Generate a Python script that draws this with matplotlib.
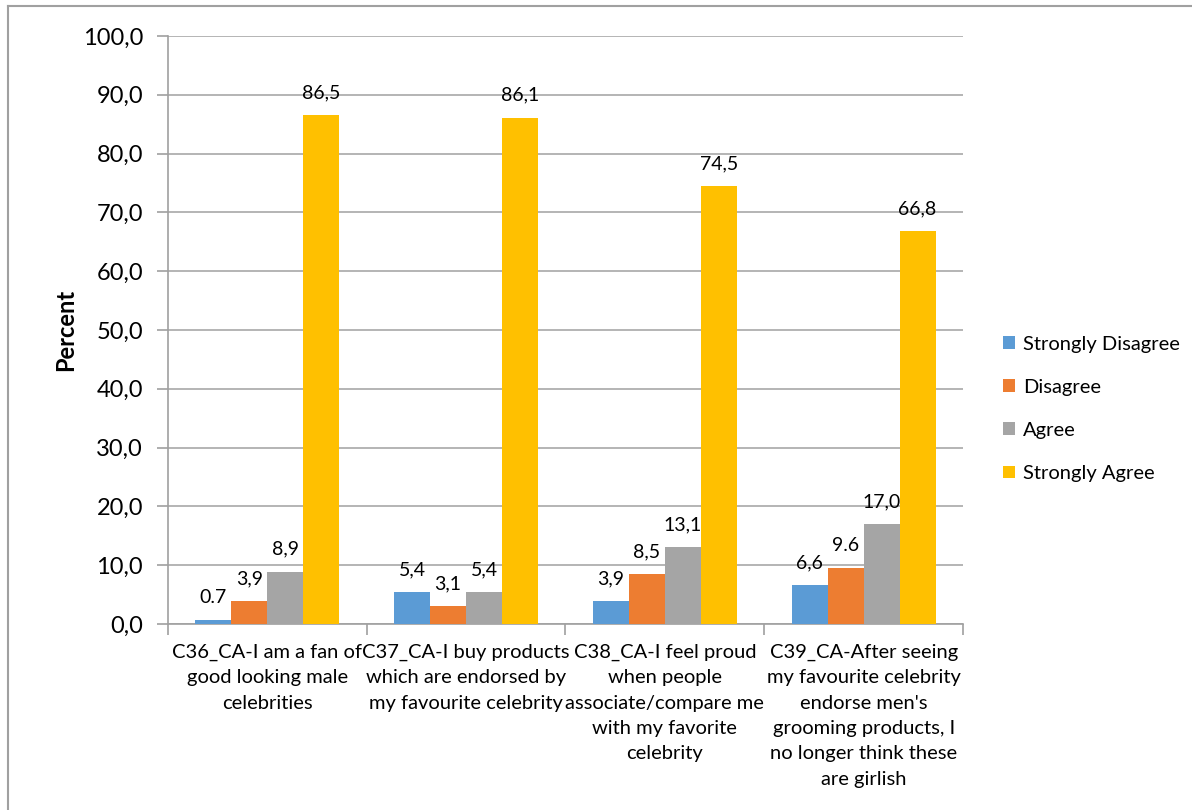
import numpy as np
import matplotlib
matplotlib.use("Agg")
import matplotlib.pyplot as plt
from matplotlib.lines import Line2D

plt.rcParams['font.family'] = ['Lato', 'DejaVu Sans']

# survey items (x categories) and the four answer groups
categories = [
    "C36_CA-I am a fan of\ngood looking male\ncelebrities",
    "C37_CA-I buy products\nwhich are endorsed by\nmy favourite celebrity",
    "C38_CA-I feel proud\nwhen people\nassociate/compare me\nwith my favorite\ncelebrity",
    "C39_CA-After seeing\nmy favourite celebrity\nendorse men's\ngrooming products, I\nno longer think these\nare girlish",
]
series_names = ["Strongly Disagree", "Disagree", "Agree", "Strongly Agree"]
strongly_disagree = [0.7, 5.4, 3.9, 6.6]
disagree = [3.9, 3.1, 8.5, 9.6]
agree = [8.9, 5.4, 13.1, 17.0]
strongly_agree = [86.5, 86.1, 74.5, 66.8]
# labels written with a point instead of a comma: (series, category)
dot_labels = {(0, 0), (1, 3)}

series = [strongly_disagree, disagree, agree, strongly_agree]
colors = ["#5B9BD5", "#ED7D31", "#A5A5A5", "#FFC000"]

fig = plt.figure(figsize=(11.92, 8.10), dpi=100)
ax = fig.add_axes([0.1409, 0.2296, 0.667, 0.726])

x = np.arange(len(categories))
w = 0.181
for i, (vals, col) in enumerate(zip(series, colors)):
    pos = x + (i - 1.5) * w
    bars = ax.bar(pos, vals, width=w, color=col, label=series_names[i], zorder=3)
    for j, (b, v) in enumerate(zip(bars, vals)):
        txt = f"{v:.1f}"
        if (i, j) not in dot_labels:
            txt = txt.replace(".", ",")
        ax.annotate(txt, (b.get_x() + b.get_width() / 2, v), xytext=(0, 10),
                    textcoords="offset points", ha="center", va="bottom",
                    fontsize=14, color="#000000")

ax.set_xlim(-0.5, len(categories) - 0.5)
ax.set_ylim(0, 100)
ax.set_yticks(np.arange(0, 101, 10))
ax.set_yticklabels([f"{t:.1f}".replace(".", ",") for t in np.arange(0, 101, 10)],
                   fontsize=17)
ax.set_xticks(x)
ax.set_xticklabels(categories, fontsize=14.5, linespacing=1.6, va="top")
ax.set_xticks(np.arange(-0.5, len(categories)), minor=True)
ax.tick_params(axis="x", which="major", length=0, pad=14)
ax.tick_params(axis="x", which="minor", length=8, color="#A0A0A0", width=1.2)
ax.tick_params(axis="y", length=8, color="#A0A0A0", width=1.2, pad=10)

ax.grid(axis="y", color="#A0A0A0", linewidth=1.1, zorder=0)
for s in ["top", "right"]:
    ax.spines[s].set_visible(False)
for s in ["left", "bottom"]:
    ax.spines[s].set_color("#A0A0A0")
    ax.spines[s].set_linewidth(1.2)

ax.set_ylabel("Percent", fontsize=17, fontweight="bold", labelpad=4)

ax.legend(loc="center left", bbox_to_anchor=(1.027, 0.366), frameon=False,
          fontsize=14.5, handlelength=0.6, handleheight=0.6, handletextpad=0.4,
          labelspacing=1.3)

# chart frame (left and top edges)
fig.add_artist(Line2D([0.0065, 0.0065], [0, 0.9925], color="#A0A0A0", lw=1.5))
fig.add_artist(Line2D([0.0065, 1.0], [0.9925, 0.9925], color="#A0A0A0", lw=1.5))

fig.savefig("out.png", dpi=100)
